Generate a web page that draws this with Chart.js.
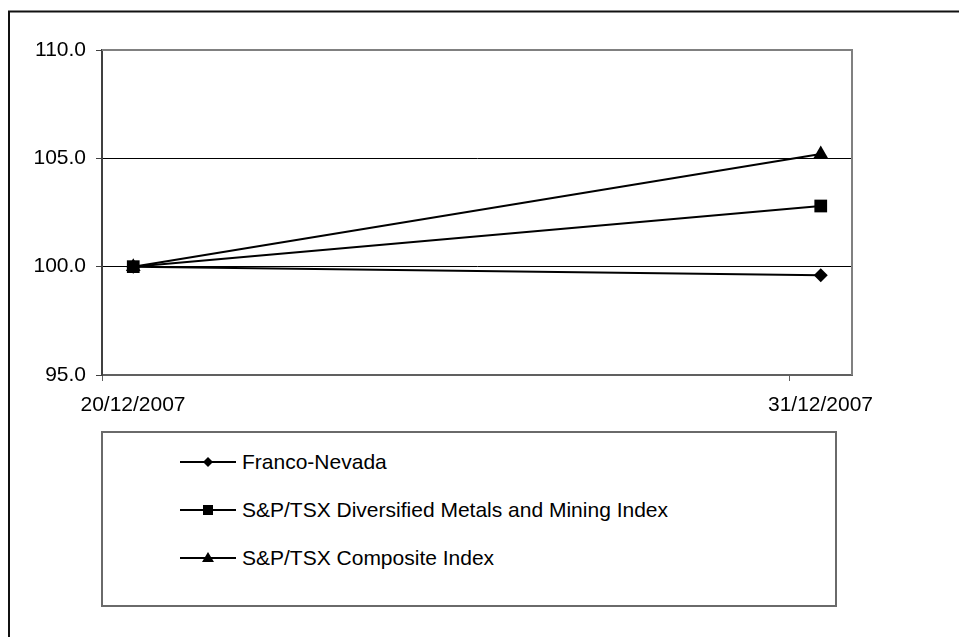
<!DOCTYPE html>
<html>
<head>
<meta charset="utf-8">
<script src="https://cdn.jsdelivr.net/npm/chart.js@4.4.1/dist/chart.umd.min.js"></script>
<style>
  body { margin: 0; background: #fff; }
  #wrap { position: relative; width: 959px; height: 637px; }
  #legend {
    position: absolute; left: 101px; top: 431px; width: 736px; height: 176px;
    box-sizing: border-box; border: 2px solid #6a6a6a; background: #fff;
    font-family: 'Liberation Sans', Arial, sans-serif; font-size: 21px; color: #000;
  }
  .row { position: absolute; left: 0; height: 48px; line-height: 48px; white-space: nowrap; }
  .row svg { position: absolute; left: 77px; top: 14px; }
  .row span { position: absolute; left: 139px; }
</style>
</head>
<body>
<div id="wrap">
  <canvas id="chart" width="959" height="637"></canvas>
  <div id="legend"></div>
</div>
<script>
const dates = ['20/12/2007', '31/12/2007'];
const dayOffsets = [0, 11];
const seriesNames = ['Franco-Nevada', 'S&P/TSX Diversified Metals and Mining Index', 'S&P/TSX Composite Index'];
const francoNevada = [100.0, 99.6];
const metalsMining = [100.0, 102.8];
const composite = [100.0, 105.2];
const yTicks = [95, 100, 105, 110];

const markers = [
    { style: 'rectRot', radius: 7 },
    { style: 'rect', radius: 9 },
    { style: 'triangle', radius: 8.5 }
];

function toPoints(values) {
    return values.map((v, i) => ({ x: dayOffsets[i], y: v }));
}

const outerFrame = {
    id: 'outerFrame',
    beforeDraw(chart) {
        const ctx = chart.ctx;
        ctx.save();
        ctx.fillStyle = '#fff';
        ctx.fillRect(0, 0, chart.width, chart.height);
        ctx.strokeStyle = '#111';
        ctx.lineWidth = 2;
        ctx.strokeRect(9, 11.5, 2000, 2000);
        ctx.restore();
    },
    beforeDatasetsDraw(chart) {
        const a = chart.chartArea;
        const ctx = chart.ctx;
        ctx.save();
        ctx.strokeStyle = '#808080';
        ctx.lineWidth = 2;
        ctx.beginPath();
        ctx.moveTo(a.left, a.top);
        ctx.lineTo(a.right, a.top);
        ctx.lineTo(a.right, a.bottom);
        ctx.stroke();
        ctx.restore();
    }
};

Chart.defaults.font.family = "'Liberation Sans', Arial, sans-serif";
Chart.defaults.font.size = 21;
Chart.defaults.color = '#000';

const allSeries = [francoNevada, metalsMining, composite];

new Chart(document.getElementById('chart').getContext('2d'), {
    type: 'line',
    data: {
        datasets: allSeries.map((values, i) => ({
            label: seriesNames[i],
            data: toPoints(values),
            borderColor: '#000',
            backgroundColor: '#000',
            borderWidth: 2,
            pointStyle: markers[i].style,
            pointRadius: markers[i].radius,
            pointBorderWidth: 0,
            order: i === 1 ? 0 : 1
        }))
    },
    options: {
        responsive: false,
        animation: false,
        layout: { padding: { top: 50, right: 107, left: 0, bottom: 0 } },
        plugins: { legend: { display: false }, tooltip: { enabled: false } },
        scales: {
            x: {
                type: 'linear',
                min: dayOffsets[0] - 0.5,
                max: dayOffsets[dayOffsets.length - 1] + 0.5,
                afterBuildTicks: scale => {
                    scale.ticks = dayOffsets.map(d => ({ value: d - 0.5 }));
                },
                afterFit: scale => { scale.height = 262; },
                ticks: {
                    autoSkip: false,
                    maxRotation: 0,
                    labelOffset: 31,
                    padding: 12,
                    callback: (v, i) => dates[i]
                },
                grid: { drawOnChartArea: false, drawTicks: true, tickLength: 6, tickColor: '#606060' },
                border: { color: '#606060', width: 2 }
            },
            y: {
                min: yTicks[0],
                max: yTicks[yTicks.length - 1],
                afterBuildTicks: scale => {
                    scale.ticks = yTicks.map(v => ({ value: v }));
                },
                afterFit: scale => { scale.width = 102; },
                ticks: {
                    padding: 10,
                    callback: v => v.toFixed(1)
                },
                grid: {
                    color: ctx => (ctx.tick && (ctx.tick.value === 100 || ctx.tick.value === 105)) ? '#000' : 'rgba(0,0,0,0)',
                    lineWidth: 1,
                    tickLength: 6,
                    tickColor: '#404040'
                },
                border: { color: '#404040', width: 2 }
            }
        }
    },
    plugins: [outerFrame]
});

// legend with line-and-marker symbols
const legendEl = document.getElementById('legend');
const symbols = [
    '<polygon points="28,5 33,10 28,15 23,10" fill="#000"/>',
    '<rect x="23" y="5" width="10" height="10" fill="#000"/>',
    '<polygon points="28,4 34,14 22,14" fill="#000"/>'
];
seriesNames.forEach((name, i) => {
    const row = document.createElement('div');
    row.className = 'row';
    row.style.top = (5 + 48 * i) + 'px';
    row.innerHTML = '<svg width="56" height="20"><line x1="0" y1="10" x2="56" y2="10" stroke="#000" stroke-width="2"/>' +
        symbols[i] + '</svg><span></span>';
    row.querySelector('span').textContent = name;
    legendEl.appendChild(row);
});
</script>
</body>
</html>
